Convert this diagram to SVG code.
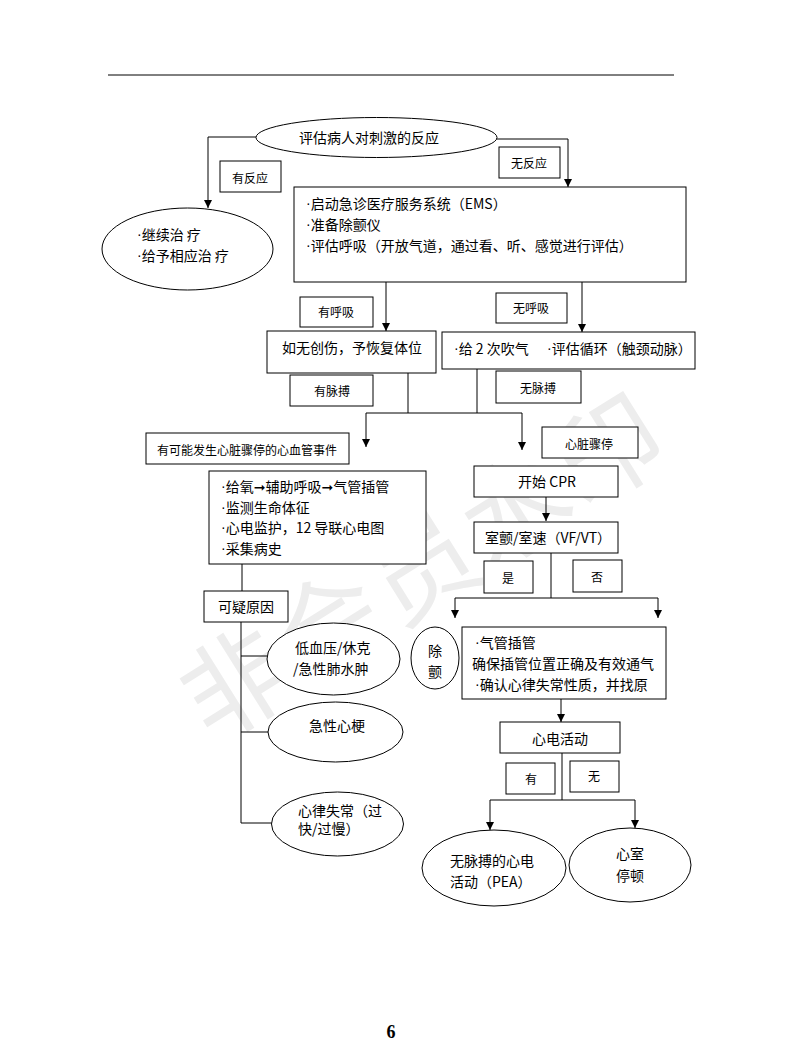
<svg xmlns="http://www.w3.org/2000/svg" width="793" height="1055" viewBox="0 0 793 1055">
<style>
.bx{fill:#fff;stroke:#000;stroke-width:1}
.ln{fill:none;stroke:#000;stroke-width:1}
.t{font-family:"Noto Sans CJK SC","DejaVu Sans",sans-serif;font-size:14px;fill:#000;dominant-baseline:central}
.d{font-family:"Liberation Sans",sans-serif}
.s{font-size:12px}
.m{text-anchor:middle}
.wm{font-family:"Noto Sans CJK SC",sans-serif;font-size:106px;fill:#ededed;text-anchor:middle;dominant-baseline:central}
</style>
<defs>
<marker id="ar" viewBox="0 0 10 10" refX="10" refY="5" markerWidth="9" markerHeight="8" markerUnits="userSpaceOnUse" orient="auto">
<path d="M0,0 L10,5 L0,10 z" fill="#000"/>
</marker>
</defs>
<rect width="793" height="1055" fill="#fff"/>
<text class="wm" transform="translate(420,560) rotate(-32)" letter-spacing="4">非会员水印</text>
<line x1="108" y1="75" x2="674" y2="75" stroke="#000" stroke-width="1"/>

<g id="connectors">
<path class="ln" d="M256,137 H208 V208" marker-end="url(#ar)"/>
<path class="ln" d="M496,139 H568 V187" marker-end="url(#ar)"/>
<path class="ln" d="M386,282 V331" marker-end="url(#ar)"/>
<path class="ln" d="M582,282 V332" marker-end="url(#ar)"/>
<path class="ln" d="M408,373 V413 M477,369 V413 M366,413 H522"/>
<path class="ln" d="M366,413 V447" marker-end="url(#ar)"/>
<path class="ln" d="M522,413 V450" marker-end="url(#ar)"/>
<path class="ln" d="M546,497 V521" marker-end="url(#ar)"/>
<path class="ln" d="M551,553 V598 M455,598 H658"/>
<path class="ln" d="M455,598 V618" marker-end="url(#ar)"/>
<path class="ln" d="M658,598 V618" marker-end="url(#ar)"/>
<path class="ln" d="M561,699 V722" marker-end="url(#ar)"/>
<path class="ln" d="M562,753 V800 M490,800 H635"/>
<path class="ln" d="M490,800 V830" marker-end="url(#ar)"/>
<path class="ln" d="M635,800 V828" marker-end="url(#ar)"/>
<path class="ln" d="M242,564 V591 M241,622 V823 M241,656 H267 M241,732 H268 M241,823 H272"/>
</g>

<g id="assess"><ellipse class="bx" cx="376.5" cy="137.5" rx="120.5" ry="20"/><text class="t m" x="369" y="137">评估病人对刺激的反应</text></g>
<g id="lbl-yes-resp"><rect class="bx" x="220" y="161" width="61" height="31"/><text class="t s m" x="250" y="177">有反应</text></g>
<g id="lbl-no-resp"><rect class="bx" x="499" y="147" width="61" height="31"/><text class="t s m" x="529" y="162">无反应</text></g>
<g id="continue"><ellipse class="bx" cx="187.5" cy="249" rx="85.5" ry="41"/><text class="t" x="137" y="234"><tspan class="d">·</tspan>继续治 疗</text><text class="t" x="137" y="255"><tspan class="d">·</tspan>给予相应治 疗</text></g>
<g id="ems"><rect class="bx" x="294" y="187" width="392" height="95"/>
<text class="t" x="306" y="203"><tspan class="d">·</tspan>启动急诊医疗服务系统（EMS）</text>
<text class="t" x="306" y="224"><tspan class="d">·</tspan>准备除颤仪</text>
<text class="t" x="306" y="245"><tspan class="d">·</tspan>评估呼吸（开放气道，通过看、听、感觉进行评估）</text></g>
<g id="lbl-breath"><rect class="bx" x="300" y="297" width="73" height="30"/><text class="t s m" x="336" y="311">有呼吸</text></g>
<g id="lbl-nobreath"><rect class="bx" x="496" y="293" width="71" height="30"/><text class="t s m" x="531" y="307">无呼吸</text></g>
<g id="recovery"><rect class="bx" x="267" y="331" width="169" height="42"/><text class="t m" x="352" y="347">如无创伤，予恢复体位</text></g>
<g id="breaths"><rect class="bx" x="442" y="332" width="253" height="37"/><text class="t" x="454" y="348"><tspan class="d">·</tspan>给 2 次吹气</text><text class="t" x="547" y="348"><tspan class="d">·</tspan>评估循环（触颈动脉）</text></g>
<g id="lbl-pulse"><rect class="bx" x="290" y="375" width="83" height="31"/><text class="t s m" x="332" y="390">有脉搏</text></g>
<g id="lbl-nopulse"><rect class="bx" x="496" y="371" width="85" height="32"/><text class="t s m" x="538" y="387">无脉搏</text></g>
<g id="cv-event"><rect class="bx" x="146" y="433" width="203" height="31"/><text class="t s" x="157" y="449">有可能发生心脏骤停的心血管事件</text></g>
<g id="arrest"><rect class="bx" x="542" y="427" width="96" height="31"/><text class="t s m" x="589" y="443">心脏骤停</text></g>
<g id="oxygen"><rect class="bx" x="209" y="471" width="217" height="93"/>
<text class="t" x="221" y="486"><tspan class="d">·</tspan>给氧➞辅助呼吸➞气管插管</text>
<text class="t" x="221" y="507"><tspan class="d">·</tspan>监测生命体征</text>
<text class="t" x="221" y="527"><tspan class="d">·</tspan>心电监护，12 导联心电图</text>
<text class="t" x="221" y="548"><tspan class="d">·</tspan>采集病史</text></g>
<g id="cpr"><rect class="bx" x="474" y="466" width="144" height="31"/><text class="t m" x="547" y="481">开始 CPR</text></g>
<g id="vfvt"><rect class="bx" x="474" y="522" width="144" height="31"/><text class="t" x="485" y="537">室颤/室速（VF/VT）</text></g>
<g id="lbl-yes"><rect class="bx" x="484" y="561" width="49" height="32"/><text class="t s m" x="508" y="577">是</text></g>
<g id="lbl-no"><rect class="bx" x="573" y="560" width="49" height="32"/><text class="t s m" x="597" y="576">否</text></g>
<g id="cause"><rect class="bx" x="204" y="591" width="84" height="31"/><text class="t m" x="246" y="606">可疑原因</text></g>
<g id="hypo"><ellipse class="bx" cx="333.5" cy="659" rx="66.5" ry="36"/><text class="t" x="295" y="647">低血压/休克</text><text class="t" x="293" y="668">/急性肺水肿</text></g>
<g id="mi"><ellipse class="bx" cx="335.5" cy="732" rx="67.5" ry="30"/><text class="t m" x="337" y="725">急性心梗</text></g>
<g id="arrhythmia"><ellipse class="bx" cx="337.5" cy="824" rx="66" ry="32"/><text class="t" x="298" y="810">心律失常（过</text><text class="t" x="298" y="828">快/过慢）</text></g>
<g id="defib"><ellipse class="bx" cx="435" cy="658" rx="24" ry="31"/><text class="t m" x="435" y="650">除</text><text class="t m" x="435" y="671">颤</text></g>
<g id="intubate"><rect class="bx" x="462" y="627" width="204" height="72"/>
<text class="t" x="475" y="642"><tspan class="d">·</tspan>气管插管</text>
<text class="t" x="472" y="663">确保插管位置正确及有效通气</text>
<text class="t" x="475" y="684"><tspan class="d">·</tspan>确认心律失常性质，并找原</text></g>
<g id="ecg"><rect class="bx" x="500" y="722" width="120" height="31"/><text class="t m" x="560" y="738">心电活动</text></g>
<g id="lbl-have"><rect class="bx" x="506" y="763" width="49" height="31"/><text class="t s m" x="531" y="778">有</text></g>
<g id="lbl-none"><rect class="bx" x="570" y="761" width="49" height="31"/><text class="t s m" x="594" y="775">无</text></g>
<g id="pea"><ellipse class="bx" cx="494" cy="868" rx="72" ry="38"/><text class="t" x="450" y="860">无脉搏的心电</text><text class="t" x="450" y="881">活动（PEA）</text></g>
<g id="asystole"><ellipse class="bx" cx="630" cy="865" rx="61" ry="37"/><text class="t m" x="630" y="853">心室</text><text class="t m" x="630" y="875">停顿</text></g>
<text x="391" y="1038" text-anchor="middle" font-family="Liberation Serif, serif" font-size="18" font-weight="bold">6</text>
</svg>
